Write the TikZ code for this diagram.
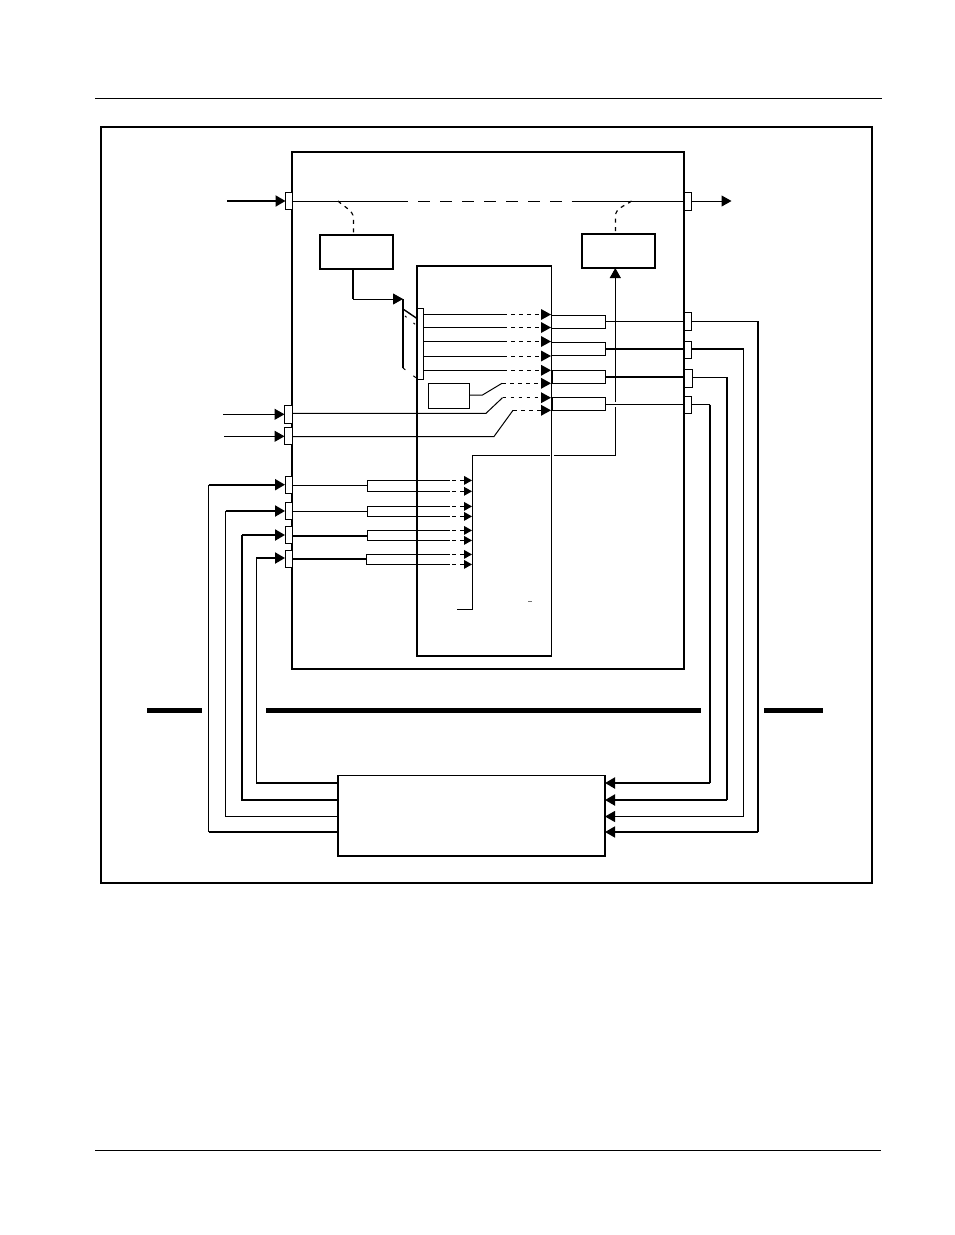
\documentclass[tikz,border=0pt]{standalone}
\usetikzlibrary{arrows.meta,calc}
\tikzset{
  x=1pt,y=-1pt,
  thinl/.style={line width=1pt},
  medl/.style={line width=1.5pt},
  heavyl/.style={line width=2pt},
  tip/.style={-{Triangle[length=10pt,width=11pt]}},
  dots/.style={line width=1pt,dash pattern=on 3.5pt off 4.5pt},
  tapdash/.style={line width=1.2pt,dash pattern=on 4pt off 4.5pt},
  blockbox/.style={draw,fill=white,line width=2pt},
  portbox/.style={draw,fill=white,line width=1pt},
  bar/.style={line width=5pt},
  rule/.style={line width=1pt},
}
\newcommand{\pxbox}[6]{%
  \pgfmathsetmacro\pxw{#5-#3}\pgfmathsetmacro\pxh{#6-#4}%
  \node[#1,anchor=north west,inner sep=0pt,outer sep=0pt,minimum width=\pxw pt,minimum height=\pxh pt] (#2) at (#3,#4) {};}
\begin{document}
\begin{tikzpicture}
\useasboundingbox (0,0) rectangle (954,1235);
\fill[white] (0,0) rectangle (954,1235);
% page rules
\coordinate (rtl) at (95,98); \coordinate (rtr) at (882,98);
\coordinate (rbl) at (95,1150); \coordinate (rbr) at (881,1150);
\draw[rule] (rtl) -- (rtr);
\draw[rule] (rbl) -- (rbr);
% frames
\pxbox{draw,line width=1.5pt}{frame}{101}{127}{872}{883}
\pxbox{blockbox}{main}{292}{152}{684}{669}
\pxbox{draw,line width=1.2pt}{inner}{417}{266}{551.5}{656}
\draw[heavyl] (inner.north east) -- (inner.north west) -- (inner.south west) -- (inner.south east);
% blocks
\pxbox{blockbox}{boxA}{320}{235}{393}{269}
\pxbox{blockbox}{boxB}{582}{233.5}{655}{268}
\pxbox{draw,line width=1pt}{small}{428.5}{383}{469}{408}
\pxbox{draw,line width=1.1pt}{bottom}{338}{775.5}{605}{856}
\draw[medl] (bottom.south west) -- (bottom.south east);
% ports
\pxbox{portbox}{pTL}{285.5}{192.2}{292}{209.8}
\pxbox{portbox}{pL2}{284.5}{405}{292}{423}
\pxbox{portbox}{pL3}{284.5}{427}{292}{444.5}
\pxbox{portbox}{pA}{285}{476.5}{292}{493}
\pxbox{portbox}{pB}{285}{502.5}{292}{519.5}
\pxbox{portbox}{pC}{285}{526.5}{292}{543}
\pxbox{portbox}{pD}{285}{550.5}{292}{567.5}
\pxbox{portbox}{pTR}{684}{192.5}{691}{210}
\pxbox{portbox}{pR1}{684}{312.5}{691}{330}
\pxbox{portbox}{pR2}{684}{341}{691}{358.5}
\pxbox{portbox}{pR3}{684}{369.5}{692}{387}
\pxbox{portbox}{pR4}{684}{396.5}{691}{413.5}
\pxbox{portbox}{pBus}{417.5}{308.5}{423}{379.5}
% output brackets
\pxbox{draw,line width=1pt}{b1}{551.5}{315}{605.5}{328}
\pxbox{draw,line width=1pt}{b2}{551.5}{342.5}{605.5}{355.5}
\pxbox{draw,line width=1pt}{b3}{551.5}{370.5}{605.5}{383.5}
\pxbox{draw,line width=1pt}{b4}{551.5}{397.5}{605.5}{410.5}
\draw[heavyl] (b3.north west) -- (b3.south west);
\draw[heavyl] (b4.north west) -- (b4.south west);
% top line
\coordinate (solidL) at (407.5,201);
\coordinate (dashS) at (418,201);
\coordinate (dashE) at (562,201);
\coordinate (solidR) at (571.5,201);
\coordinate (outTip) at (731.5,201);
\coordinate (inTop) at (227,201);
\draw[heavyl,tip] (inTop) -- (pTL.west |- inTop);
\draw[thinl] (pTL.east |- solidL) -- (solidL);
\draw[thinl,dash pattern=on 12pt off 10pt] (dashS) -- (dashE);
\draw[thinl] (solidR) -- (pTR.west |- solidR);
\draw[thinl,tip] (pTR.east |- outTip) -- (outTip);
% dashed taps
\coordinate (tapL) at (338,201);
\coordinate (tapR) at (631.5,201);
\coordinate (tapLk) at (353.5,218);
\coordinate (tapRk) at (615.5,216);
\draw[tapdash] (tapL) .. controls (344,207) and (353,210) .. (tapLk) -- (boxA.north -| tapLk);
\draw[tapdash] (tapR) .. controls (625,206) and (615.5,208) .. (tapRk) -- (boxB.north -| tapRk);
% box A to bus
\coordinate (aOut) at (353,269);
\coordinate (aBend) at (353,299);
\coordinate (busTop) at (403,299);
\coordinate (busBot) at (403,368);
\draw[heavyl] (aOut) -- (aBend);
\draw[thinl,tip] (aBend) -- (busTop);
\draw[heavyl] (busTop) -- (busBot);
\coordinate (fanA) at (403,309); \coordinate (fanB) at (417,318.5);
\draw[line width=1.4pt] (fanA) -- (fanB);
\coordinate (fanC) at (405,316); \coordinate (fanD) at (416,325);
\draw[line width=1pt,dash pattern=on 2pt off 9pt] (fanC) -- (fanD);
\coordinate (fanE) at (403,368); \coordinate (fanF) at (417,378.5);
\draw[line width=1pt,dash pattern=on 3pt off 10pt] (fanE) -- (fanF);
% inner signals
\foreach \n/\y in {1/314.5,2/327.5,3/341.5,4/356,5/370.3}{
  \coordinate (s\n) at (503,\y);
  \coordinate (t\n) at (551,\y);
  \draw[thinl] (pBus.east |- s\n) -- (s\n);
  \draw[dots] (s\n) -- ++(38,0);
  \fill (t\n) -- ++(-10,-5.5) -- ++(0,11) -- cycle;
}
\foreach \n/\y in {6/383.3,7/397.7,8/410.3}{
  \coordinate (t\n) at (551,\y);
  \fill (t\n) -- ++(-10,-5.5) -- ++(0,11) -- cycle;
}
\coordinate (k6a) at (482.5,395); \coordinate (k6b) at (502,383.3);
\coordinate (k7a) at (486,413.3); \coordinate (k7b) at (502.5,397.7);
\coordinate (k8a) at (494,436.5); \coordinate (k8b) at (513,410.3);
\draw[thinl] (small.east |- k6a) -- (k6a) -- (k6b);
\draw[dots] (k6b) -- (541,383.3);
\draw[thinl] (pL2.east |- k7a) -- (k7a) -- (k7b);
\draw[dots] (k7b) -- (541,397.7);
\draw[thinl] (pL3.east |- k8a) -- (k8a) -- (k8b);
\draw[dots] (k8b) -- (541,410.3);
\coordinate (inL2) at (223,414.3); \coordinate (inL3) at (224,436.3);
\draw[thinl,tip] (inL2) -- (pL2.west |- inL2);
\draw[thinl,tip] (inL3) -- (pL3.west |- inL3);
% feedback to box B
\coordinate (fbTop) at (615.3,401.5);
\coordinate (fbLow) at (615.3,407);
\coordinate (fbCorner) at (615.3,455.3);
\coordinate (gapR) at (554,455.3);
\coordinate (gapL) at (550,455.3);
\coordinate (rail) at (472.3,455.3);
\coordinate (railEnd) at (472.3,609);
\coordinate (railFoot) at (457,609);
\draw[thinl,tip] (fbTop) -- (boxB.south -| fbTop);
\draw[thinl] (fbLow) -- (fbCorner) -- (gapR);
\draw[thinl] (gapL) -- (rail) -- (railEnd) -- (railFoot);
\coordinate (mkA) at (528,601); \coordinate (mkB) at (532,601);
\draw[line width=1pt,black!55] (mkA) -- (mkB);
% outputs of brackets through ports
\draw[thinl] (b1.east |- 0,321.4) -- (pR1.west |- 0,321.4);
\draw[heavyl] (b2.east |- 0,349) -- (pR2.west |- 0,349);
\draw[heavyl] (b3.east |- 0,377) -- (pR3.west |- 0,377);
\draw[thinl] (b4.east |- 0,404.5) -- (pR4.west |- 0,404.5);
% right side loop to bottom block
\coordinate (r1) at (758,321.4); \coordinate (r2) at (743.5,349);
\coordinate (r3) at (727,377); \coordinate (r4) at (710,404.5);
\coordinate (e1) at (758,832); \coordinate (e2) at (743.5,816.5);
\coordinate (e3) at (727,800); \coordinate (e4) at (710,783);
\draw[thinl] (pR1.east |- r1) -- (r1);
\draw[medl] (r1) -- (e1);
\draw[heavyl] (pR2.east |- r2) -- (r2);
\draw[thinl] (r2) -- (e2);
\draw[thinl] (pR3.east |- r3) -- (r3);
\draw[heavyl] (r3) -- (e3);
\draw[thinl] (pR4.east |- r4) -- (r4);
\draw[heavyl] (r4) -- (e4);
\draw[medl,tip] (e1) -- (bottom.east |- e1);
\draw[thinl,tip] (e2) -- (bottom.east |- e2);
\draw[heavyl,tip] (e3) -- (bottom.east |- e3);
\draw[heavyl,tip] (e4) -- (bottom.east |- e4);
% left side loop
\coordinate (l1) at (208.5,484.7); \coordinate (l2) at (225.5,511);
\coordinate (l3) at (242,535); \coordinate (l4) at (256.3,558);
\coordinate (f1) at (208.5,832); \coordinate (f2) at (225.5,816.5);
\coordinate (f3) at (242,800); \coordinate (f4) at (256.3,782.7);
\draw[medl] (bottom.west |- f1) -- (f1);
\draw[thinl] (f1) -- (l1);
\draw[heavyl,tip] (l1) -- (pA.west |- l1);
\draw[thinl] (bottom.west |- f2) -- (f2);
\draw[thinl] (f2) -- (l2);
\draw[heavyl,tip] (l2) -- (pB.west |- l2);
\draw[heavyl] (bottom.west |- f3) -- (f3) -- (l3);
\draw[heavyl,tip] (l3) -- (pC.west |- l3);
\draw[heavyl] (bottom.west |- f4) -- (f4);
\draw[thinl] (f4) -- (l4);
\draw[heavyl,tip] (l4) -- (pD.west |- l4);
% lower brackets
\foreach \n/\xb/\ym/\yu/\yd/\wd in {A/367.3/485.3/480.4/491.3/1,B/367.3/511.3/506.4/516.4/1,C/367.3/536/530.4/540.4/2,D/366.3/559/554.4/564.4/2}{
  \coordinate (j\n) at (\xb,\ym);
  \coordinate (ju\n) at (\xb,\yu);
  \coordinate (jd\n) at (\xb,\yd);
  \draw[line width=\wd pt] (p\n.east |- j\n) -- (j\n);
  \draw[thinl] (450,\yu) -- (ju\n) -- (jd\n) -- (450,\yd);
  \draw[thinl,dash pattern=on 4pt off 4pt] (452,\yu) -- (464,\yu);
  \draw[thinl,dash pattern=on 4pt off 4pt] (452,\yd) -- (464,\yd);
  \fill (472,\yu) -- ++(-8,-4.5) -- ++(0,9) -- cycle;
  \fill (472,\yd) -- ++(-8,-4.5) -- ++(0,9) -- cycle;
}
% thick bars
\coordinate (ba1) at (147,710.3); \coordinate (ba2) at (202,710.3);
\coordinate (bb1) at (266,710.3); \coordinate (bb2) at (701,710.3);
\coordinate (bc1) at (764,710.3); \coordinate (bc2) at (823,710.3);
\draw[bar] (ba1) -- (ba2);
\draw[bar] (bb1) -- (bb2);
\draw[bar] (bc1) -- (bc2);
\end{tikzpicture}
\end{document}
